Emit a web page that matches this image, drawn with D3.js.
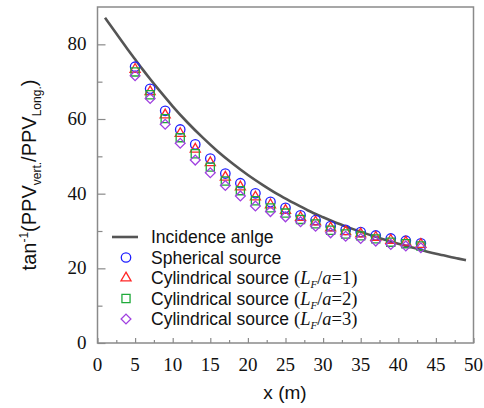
<!DOCTYPE html>
<html>
<head>
<meta charset="utf-8">
<script src="https://cdn.jsdelivr.net/npm/d3@7/dist/d3.min.js"></script>
<style>
  html, body { margin: 0; padding: 0; background: #fff; }
  svg { display: block; }
  text.num { font-family: "Liberation Serif", "DejaVu Serif", serif; font-size: 19px; fill: #111; }
</style>
</head>
<body>
<script>
// Sampling positions (m)
const xPts = [5, 7, 9, 11, 13, 15, 17, 19, 21, 23, 25, 27, 29, 31, 33, 35, 37, 39, 41, 43];

// Angle tan^-1(PPV_vert / PPV_long) in degrees for each source model
const spherical = [74.0, 68.1, 62.2, 57.2, 53.2, 49.4, 45.4, 42.8, 40.1, 37.8, 36.2, 34.2, 32.9, 31.3, 30.3, 29.7, 28.8, 28.0, 27.4, 26.7];
const cyl1      = [73.3, 67.3, 61.1, 56.1, 51.9, 48.3, 44.4, 41.8, 39.1, 37.0, 35.5, 33.6, 32.4, 30.8, 29.8, 29.2, 28.3, 27.5, 27.0, 26.4];
const cyl2      = [72.6, 66.5, 60.1, 55.0, 50.7, 47.1, 43.4, 40.8, 38.1, 36.2, 34.8, 33.1, 31.9, 30.2, 29.2, 28.7, 27.9, 27.0, 26.6, 26.0];
const cyl3      = [71.6, 65.5, 58.6, 53.5, 49.0, 45.6, 42.2, 39.4, 36.7, 35.2, 33.8, 32.5, 31.3, 29.5, 28.6, 28.0, 27.3, 26.4, 26.0, 25.5];

// Incidence angle curve
const curveX = [1, 2, 3, 4, 5, 6, 7, 8, 9, 10, 12, 14, 16, 18, 20, 22, 24, 26, 28, 30, 32, 34, 36, 38, 40, 42, 44, 46, 48, 49];
const curveY = [87.1, 84.3, 81.5, 78.7, 76.0, 73.3, 70.7, 68.2, 65.8, 63.4, 59.0, 55.0, 51.3, 48.0, 45.0, 42.3, 39.8, 37.6, 35.5, 33.7, 32.0, 30.5, 29.1, 27.8, 26.6, 25.5, 24.4, 23.5, 22.6, 22.2];

// Axis ticks
const xTicks = [0, 5, 10, 15, 20, 25, 30, 35, 40, 45, 50];
const xMinor = [2.5, 7.5, 12.5, 17.5, 22.5, 27.5, 32.5, 37.5, 42.5, 47.5];
const yTicks = [0, 20, 40, 60, 80];
const yMinor = [10, 30, 50, 70];

const W = 484, H = 408;
const plotL = 97.5, plotR = 473.5, plotT = 7, plotB = 343;

const svg = d3.select("body").append("svg")
  .attr("width", W).attr("height", H);

const x = d3.scaleLinear().domain([0, 50]).range([plotL, plotR]);
const y = d3.scaleLinear().domain([0, 90]).range([plotB, plotT]);

const axisColor = "#8a8a8a";
const serif = "'Liberation Serif', 'DejaVu Serif', 'Times New Roman', Times, serif";
const sans = "'Liberation Sans', Arial, sans-serif";

// Frame
svg.append("rect")
  .attr("x", plotL).attr("y", plotT)
  .attr("width", plotR - plotL).attr("height", plotB - plotT)
  .attr("fill", "none").attr("stroke", axisColor).attr("stroke-width", 1.5);

// Inward tick marks drawn by d3 axes (labels are set separately below)
function tickAxis(axis, transform, vals, len) {
  const g = svg.append("g").attr("transform", transform)
    .call(axis.tickValues(vals).tickSize(-len).tickFormat(""));
  g.select(".domain").remove();
  g.selectAll(".tick line").attr("stroke", axisColor).attr("stroke-width", 1.2);
  return g;
}
tickAxis(d3.axisBottom(x), `translate(0,${plotB})`, xTicks, 5);
tickAxis(d3.axisBottom(x), `translate(0,${plotB})`, xMinor, 3);
tickAxis(d3.axisLeft(y), `translate(${plotL},0)`, yTicks, 8);
tickAxis(d3.axisLeft(y), `translate(${plotL},0)`, yMinor, 5);

// Tick labels (serif numerals)
svg.append("g").selectAll("text")
  .data(xTicks).join("text")
  .attr("class", "num")
  .attr("x", d => x(d)).attr("y", plotB + 28)
  .attr("text-anchor", "middle")
  .text(d => d);

svg.append("g").selectAll("text")
  .data(yTicks).join("text")
  .attr("class", "num")
  .attr("x", plotL - 11).attr("y", d => y(d) + 6)
  .attr("text-anchor", "end")
  .text(d => d);

// Axis titles
svg.append("text")
  .attr("x", 285).attr("y", 399)
  .attr("text-anchor", "middle")
  .style("font-family", sans).style("font-size", "19px").style("fill", "#111")
  .text("x (m)");

const yt = svg.append("text")
  .attr("transform", `translate(36,${(plotT + plotB) / 2}) rotate(-90)`)
  .attr("text-anchor", "middle")
  .style("font-family", sans).style("font-size", "20px").style("fill", "#111");
yt.append("tspan").text("tan");
yt.append("tspan").style("font-size", "12px").attr("dy", -8).text("-1");
yt.append("tspan").attr("dy", 8).text("(PPV");
yt.append("tspan").style("font-size", "12px").attr("dy", 5).text("vert.");
yt.append("tspan").attr("dy", -5).text("/PPV");
yt.append("tspan").style("font-size", "12px").attr("dy", 5).text("Long.");
yt.append("tspan").attr("dy", -5).text(")");

// Incidence angle line
const line = d3.line().x(d => x(d[0])).y(d => y(d[1])).curve(d3.curveMonotoneX);
svg.append("path")
  .datum(d3.zip(curveX, curveY))
  .attr("d", line)
  .attr("fill", "none").attr("stroke", "#555").attr("stroke-width", 2.6);

// Marker definitions (diamond = square turned 45 degrees)
const series = [
  { name: "sph",  values: spherical, color: "#1f1fff", shape: d3.symbolCircle,   size: 70, rot: 0 },
  { name: "cyl1", values: cyl1,      color: "#ff2626", shape: d3.symbolTriangle, size: 44, rot: 0 },
  { name: "cyl2", values: cyl2,      color: "#1faa3a", shape: d3.symbolSquare,   size: 66, rot: 0 },
  { name: "cyl3", values: cyl3,      color: "#a040e0", shape: d3.symbolSquare,   size: 48, rot: 45 }
];

series.forEach(s => {
  svg.append("g").selectAll("path")
    .data(d3.zip(xPts, s.values))
    .join("path")
    .attr("transform", d => `translate(${x(d[0])},${y(d[1])}) rotate(${s.rot})`)
    .attr("d", d3.symbol().type(s.shape).size(s.size)())
    .attr("fill", "none").attr("stroke", s.color).attr("stroke-width", 1.3);
});

// Legend
const lg = svg.append("g");
const rowY = [237, 257.5, 278, 298.5, 319];
const textX = 151, markX = 126;

lg.append("line")
  .attr("x1", 112).attr("x2", 138).attr("y1", rowY[0]).attr("y2", rowY[0])
  .attr("stroke", "#555").attr("stroke-width", 2.6);

series.forEach((s, i) => {
  lg.append("path")
    .attr("transform", `translate(${markX},${rowY[i + 1]}) rotate(${s.rot})`)
    .attr("d", d3.symbol().type(s.shape).size(s.size)())
    .attr("fill", "none").attr("stroke", s.color).attr("stroke-width", 1.3);
});

function legendText(yy) {
  return lg.append("text").attr("x", textX).attr("y", yy + 6)
    .style("font-family", sans).style("font-size", "17.5px").style("fill", "#111");
}
function serifSpan(t, txt, size, italic) {
  return t.append("tspan")
    .style("font-family", serif).style("font-size", size + "px")
    .style("font-style", italic ? "italic" : "normal")
    .text(txt);
}
legendText(rowY[0]).text("Incidence anlge");
legendText(rowY[1]).text("Spherical source");
[1, 2, 3].forEach((k, i) => {
  const t = legendText(rowY[i + 2]);
  t.append("tspan").text("Cylindrical source ");
  serifSpan(t, "(", 18.5, false);
  serifSpan(t, "L", 18.5, true);
  serifSpan(t, "F", 11, true).attr("dy", 4);
  serifSpan(t, "/", 18.5, false).attr("dy", -4);
  serifSpan(t, "a", 18.5, true);
  serifSpan(t, "=" + k + ")", 18.5, false);
});
</script>
</body>
</html>
